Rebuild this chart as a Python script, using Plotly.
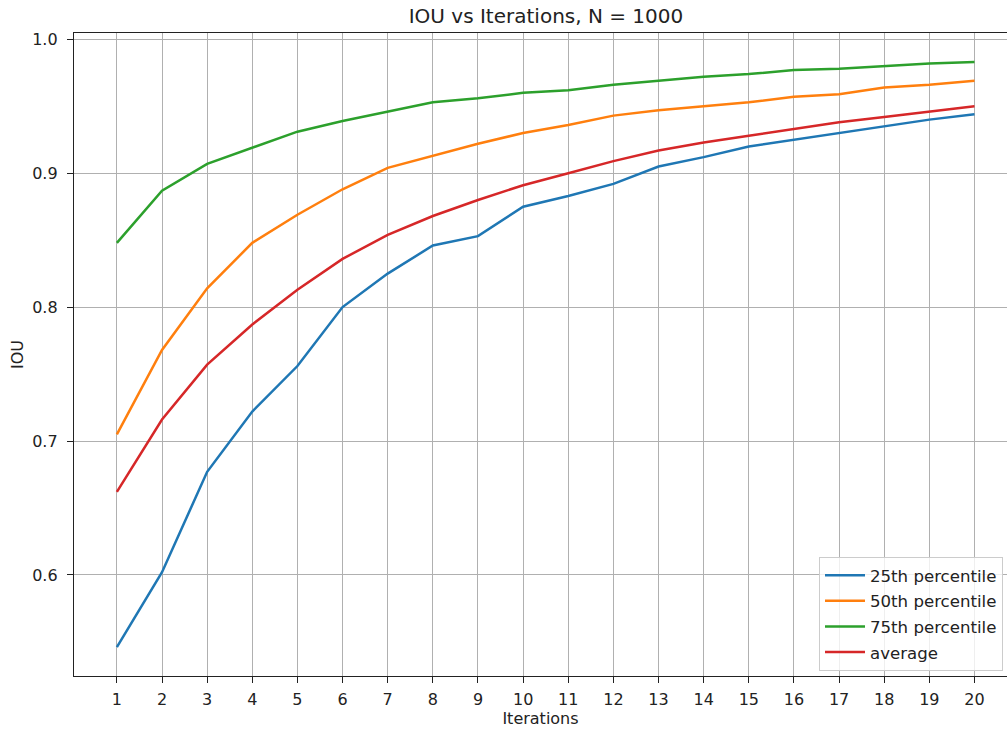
import plotly.graph_objects as go

iterations = list(range(1, 21))
p25 = [0.546, 0.602, 0.677, 0.722, 0.756, 0.800, 0.825, 0.846, 0.853, 0.875,
       0.883, 0.892, 0.905, 0.912, 0.920, 0.925, 0.930, 0.935, 0.940, 0.944]
p50 = [0.705, 0.768, 0.814, 0.848, 0.869, 0.888, 0.904, 0.913, 0.922, 0.930,
       0.936, 0.943, 0.947, 0.950, 0.953, 0.957, 0.959, 0.964, 0.966, 0.969]
p75 = [0.848, 0.887, 0.907, 0.919, 0.931, 0.939, 0.946, 0.953, 0.956, 0.960,
       0.962, 0.966, 0.969, 0.972, 0.974, 0.977, 0.978, 0.980, 0.982, 0.983]
avg = [0.662, 0.716, 0.757, 0.787, 0.813, 0.836, 0.854, 0.868, 0.880, 0.891,
       0.900, 0.909, 0.917, 0.923, 0.928, 0.933, 0.938, 0.942, 0.946, 0.950]

series_names = ["25th percentile", "50th percentile", "75th percentile", "average"]
series_values = [p25, p50, p75, avg]
colors = ["#1f77b4", "#ff7f0e", "#2ca02c", "#d62728"]
y_ticks = [0.6, 0.7, 0.8, 0.9, 1.0]
y_ticklabels = ["0.6", "0.7", "0.8", "0.9", "1.0"]

FONT = "DejaVu Sans"
TXT = "#222222"

fig = go.Figure()
for name, vals, col in zip(series_names, series_values, colors):
    fig.add_trace(go.Scatter(x=iterations, y=vals, mode="lines", name=name,
                             legendgroup=name,
                             line=dict(color=col, width=2.5)))

W, H = 1007, 729
L, T, B = 74, 33, 53

fig.update_layout(
    width=W, height=H,
    margin=dict(l=L, r=0, t=T, b=B, autoexpand=False),
    paper_bgcolor="white", plot_bgcolor="white",
    font=dict(family=FONT, size=16, color=TXT),
    title=dict(text="IOU vs Iterations, N = 1000", x=546 / W, xanchor="center",
               xref="container", y=1 - 16 / H, yanchor="middle", yref="container",
               font=dict(family=FONT, size=20, color=TXT)),
    xaxis=dict(range=[0.05, 20.72], tickmode="array", tickvals=iterations,
               ticktext=[str(i) for i in iterations],
               showgrid=True, gridcolor="#b0b0b0", gridwidth=1.3,
               showline=True, linecolor="#222222", linewidth=1.4, mirror=True,
               ticks="outside", ticklen=6, tickwidth=1.3, tickcolor="#222222",
               ticklabelstandoff=3, zeroline=False,
               title=dict(text="Iterations", standoff=4,
                          font=dict(family=FONT, size=16, color=TXT)),
               tickfont=dict(family=FONT, size=16, color=TXT)),
    yaxis=dict(range=[0.5245, 1.0047], tickmode="array", tickvals=y_ticks,
               ticktext=y_ticklabels,
               showgrid=True, gridcolor="#b0b0b0", gridwidth=1.3,
               showline=True, linecolor="#222222", linewidth=1.4, mirror=False,
               ticks="outside", ticklen=6, tickwidth=1.3, tickcolor="#222222",
               ticklabelstandoff=6, zeroline=False,
               title=dict(text="IOU", standoff=4,
                          font=dict(family=FONT, size=16, color=TXT)),
               tickfont=dict(family=FONT, size=16, color=TXT)),
    legend=dict(x=(819 - L) / (W - L), y=(676 - 557) / (676 - T),
                xanchor="left", yanchor="top",
                bgcolor="rgba(255,255,255,0.8)", bordercolor="#cccccc", borderwidth=1,
                font=dict(family=FONT, size=16.6, color=TXT),
                tracegroupgap=1, itemwidth=40),
    showlegend=True,
)

fig.write_html("out.html", config={"displayModeBar": False},
               post_script="document.body.style.margin='0';document.body.style.overflow='hidden';")
